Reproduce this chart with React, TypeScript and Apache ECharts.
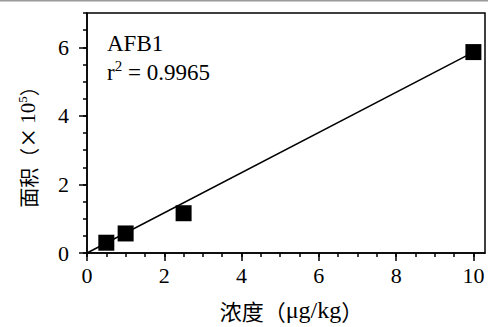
import React, { useEffect, useRef } from "react";
import * as echarts from "echarts";

const concentration = [0.5, 1, 2.5, 10];
const peakArea = [0.3, 0.57, 1.16, 5.86];
const fitLineX = [0, 10];
const fitLineY = [0, 5.86];
const xMajorTicks = [0, 2, 4, 6, 8, 10];
const xMinorTicks = [0, 0.5, 1, 1.5, 2, 2.5, 3, 3.5, 4, 4.5, 5, 5.5, 6, 6.5, 7, 7.5, 8, 8.5, 9, 9.5, 10];
const yMajorTicks = [0, 2, 4, 6];
const yMinorTicks = [0, 0.5, 1, 1.5, 2, 2.5, 3, 3.5, 4, 4.5, 5, 5.5, 6, 6.5, 7];
const annotationTitle = "AFB1";
const annotationR2 = "0.9965";
const xNameCn = "浓度（";
const xNameUnit = "μg/kg";
const xNameEnd = "）";
const yNameCn = "面积（";
const yNameTimes = "×";
const yNameBase = "10";
const yNameSup = "5";
const yNameEnd = "）";

const FONT = "Liberation Serif, Noto Sans CJK SC, serif";
const CJK = "Noto Sans CJK SC, Liberation Serif, sans-serif";

export default function App() {
  const ref = useRef<HTMLDivElement>(null);
  useEffect(() => {
    document.body.style.margin = "0";
    const chart = echarts.init(ref.current!, null, { renderer: "svg" });
    const axisLineStyle = { color: "#000", width: 1.5 };
    const option: any = {
      animation: false,
      backgroundColor: "#fff",
      textStyle: { fontFamily: FONT, color: "#000" },
      grid: {
        left: 87,
        right: 3,
        top: 13,
        bottom: 74,
        containLabel: false,
        outerBoundsMode: "none",
        show: true,
        borderColor: "#000",
        borderWidth: 1.5,
        backgroundColor: "transparent",
      },
      xAxis: [
        {
          type: "value",
          min: 0,
          max: 10.3,
          interval: 2,
          position: "bottom",
          axisLine: { show: true, lineStyle: axisLineStyle },
          axisTick: { show: true, customValues: xMajorTicks, length: 8, lineStyle: axisLineStyle },
          axisLabel: {
            showMaxLabel: false,
            color: "#000",
            fontFamily: FONT,
            fontSize: 22,
            margin: 11,
          },
          splitLine: { show: false },
          name: "{c|" + xNameCn + "}{l|" + xNameUnit + "}{c|" + xNameEnd + "}",
          nameLocation: "middle",
          nameGap: 44,
          nameTextStyle: {
            color: "#000",
            fontFamily: FONT,
            fontSize: 22,
            padding: [0, 0, 0, 11],
            rich: {
              c: { color: "#000", fontFamily: CJK, fontSize: 22, lineHeight: 26 },
              l: { color: "#000", fontFamily: FONT, fontSize: 24, lineHeight: 26 },
            },
          },
        },
        {
          type: "value",
          min: 0,
          max: 10.3,
          position: "bottom",
          axisLine: { show: false },
          axisTick: { show: true, customValues: xMinorTicks, length: 4, lineStyle: axisLineStyle },
          axisLabel: { show: false },
          splitLine: { show: false },
        },
      ],
      yAxis: [
        {
          type: "value",
          min: 0,
          max: 7,
          interval: 2,
          position: "left",
          axisLine: { show: true, lineStyle: axisLineStyle },
          axisTick: { show: true, customValues: yMajorTicks, length: 8, lineStyle: axisLineStyle },
          axisLabel: {
            showMaxLabel: false,
            color: "#000",
            fontFamily: FONT,
            fontSize: 22,
            margin: 18,
          },
          splitLine: { show: false },
        },
        {
          type: "value",
          min: 0,
          max: 7,
          position: "left",
          axisLine: { show: false },
          axisTick: { show: true, customValues: yMinorTicks, length: 4, lineStyle: axisLineStyle },
          axisLabel: { show: false },
          splitLine: { show: false },
        },
      ],
      graphic: [
        {
          type: "rect",
          shape: { x: 0, y: 0, width: 488, height: 1.5 },
          style: { fill: "#9a9a9a" },
          silent: true,
        },
        {
          type: "text",
          x: 28,
          y: 142,
          rotation: Math.PI / 2,
          style: {
            text:
              "{c|" + yNameCn + "}{x|" + yNameTimes + "}{n|" + yNameBase + "}{s|" + yNameSup + "}{c|" + yNameEnd + "}",
            fill: "#000",
            font: "20px " + FONT,
            align: "center",
            verticalAlign: "middle",
            rich: {
              c: { fontFamily: CJK, fontSize: 20, fill: "#000", lineHeight: 24, verticalAlign: "middle" },
              x: { fontFamily: FONT, fontSize: 32, fill: "#000", lineHeight: 24, width: 20, align: "center", verticalAlign: "middle" },
              n: { fontFamily: FONT, fontSize: 21, fill: "#000", lineHeight: 24, padding: [0, 0, 0, 4], verticalAlign: "middle" },
              s: { fontFamily: FONT, fontSize: 13, fill: "#000", lineHeight: 14, verticalAlign: "top" },
            },
          },
        },
        {
          type: "text",
          x: 107,
          y: 43,
          style: {
            text: annotationTitle,
            fill: "#000",
            font: "23px " + FONT,
            verticalAlign: "middle",
          },
        },
        {
          type: "text",
          x: 107,
          y: 71,
          style: {
            text: "{a|r}{s|2}{a| = " + annotationR2 + "}",
            fill: "#000",
            font: "23px " + FONT,
            verticalAlign: "middle",
            rich: {
              a: { fontFamily: FONT, fontSize: 23, fill: "#000", lineHeight: 26, verticalAlign: "bottom" },
              s: { fontFamily: FONT, fontSize: 15, fill: "#000", lineHeight: 16, verticalAlign: "top" },
            },
          },
        },
      ],
      series: [
        {
          type: "line",
          xAxisIndex: 0,
          yAxisIndex: 0,
          data: fitLineX.map((x, i) => [x, fitLineY[i]]),
          showSymbol: false,
          symbol: "none",
          lineStyle: { color: "#000", width: 1.5 },
          z: 2,
        },
        {
          type: "scatter",
          xAxisIndex: 0,
          yAxisIndex: 0,
          data: concentration.map((x, i) => [x, peakArea[i]]),
          symbol: "rect",
          symbolSize: 16,
          itemStyle: { color: "#000", opacity: 1 },
          z: 3,
        },
      ],
    };
    chart.setOption(option);
    return () => chart.dispose();
  }, []);
  return <div ref={ref} style={{ width: 488, height: 327 }} />;
}
